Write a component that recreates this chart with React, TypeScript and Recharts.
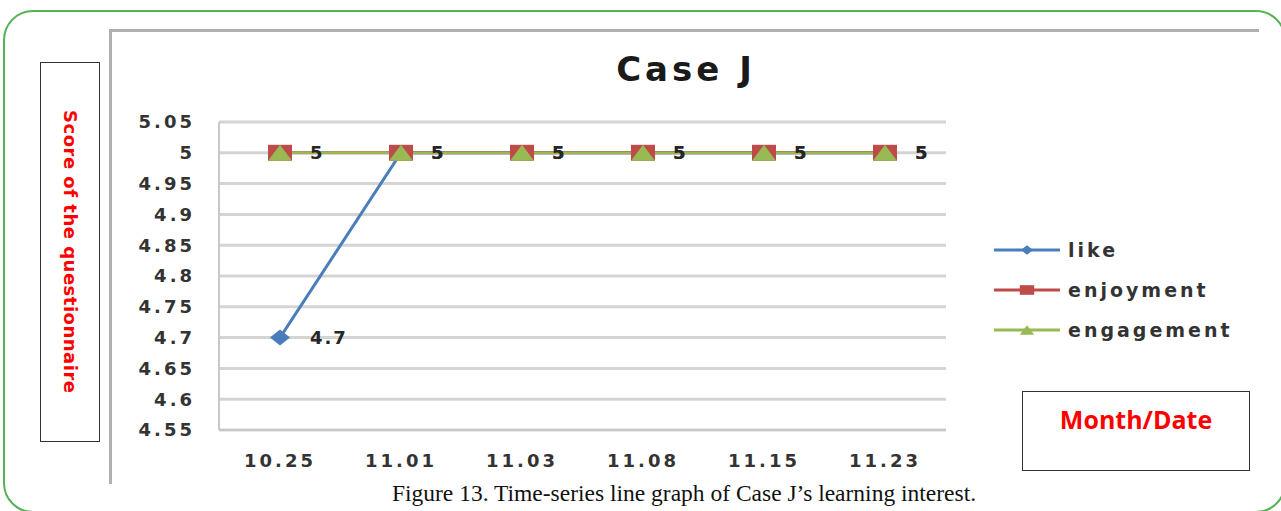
import { LineChart, Line, XAxis, YAxis, CartesianGrid, Legend, LabelList } from 'recharts';

// values
const dates = ['10.25', '11.01', '11.03', '11.08', '11.15', '11.23'];
const like = [4.7, 5, 5, 5, 5, 5];
const enjoyment = [5, 5, 5, 5, 5, 5];
const engagement = [5, 5, 5, 5, 5, 5];
const yTicks = [4.55, 4.6, 4.65, 4.7, 4.75, 4.8, 4.85, 4.9, 4.95, 5, 5.05];

const COLORS = {
  like: '#4a7ebb',
  enjoyment: '#be4b48',
  engagement: '#98b954',
  grid: '#d4d4d4',
  axis: '#c8c8c8',
  tick: '#333333',
  green: '#57b157',
  red: '#ff0000',
};

const series = [
  { key: 'like', name: 'like', color: COLORS.like },
  { key: 'enjoyment', name: 'enjoyment', color: COLORS.enjoyment },
  { key: 'engagement', name: 'engagement', color: COLORS.engagement },
];

const data = dates.map((d, i) => ({
  date: d,
  like: like[i],
  enjoyment: enjoyment[i],
  engagement: engagement[i],
}));

const tickFont = { fontFamily: 'DejaVu Sans', fontWeight: 700, fontSize: 18, letterSpacing: 3, fill: COLORS.tick };

function marker(kind: string, cx: number, cy: number, s: number, key?: any) {
  if (kind === 'like') {
    return (
      <polygon key={key} points={`${cx},${cy - 8 * s} ${cx + 10 * s},${cy} ${cx},${cy + 8 * s} ${cx - 10 * s},${cy}`} fill={COLORS.like} />
    );
  }
  if (kind === 'enjoyment') {
    return <rect key={key} x={cx - 12 * s} y={cy - 8 * s} width={24 * s} height={16 * s} fill={COLORS.enjoyment} />;
  }
  return (
    <polygon key={key} points={`${cx},${cy - 8 * s} ${cx + 12 * s},${cy + 8 * s} ${cx - 12 * s},${cy + 8 * s}`} fill={COLORS.engagement} />
  );
}

const dotFor = (kind: string) => (p: any) => marker(kind, p.cx, p.cy, 1, `${kind}-${p.index}`);

const renderLabel = (p: any) => (
  <text x={Number(p.x) + 30} y={Number(p.y)} dy="0.36em" textAnchor="start"
    style={{ fontFamily: 'DejaVu Sans', fontWeight: 700, fontSize: 18, letterSpacing: 2 }} fill="#262626">
    {p.value}
  </text>
);

const renderLegend = () => (
  <div>
    {series.map(s => (
      <div key={s.key} style={{ display: 'flex', alignItems: 'center', height: 40 }}>
        <svg width={66} height={20}>
          <line x1={0} y1={10} x2={66} y2={10} stroke={s.color} strokeWidth={3} />
          {marker(s.key, 33, 10, 0.6)}
        </svg>
        <span style={{ marginLeft: 8, fontFamily: 'DejaVu Sans', fontWeight: 700, fontSize: 19, letterSpacing: 3, color: '#333' }}>
          {s.name}
        </span>
      </div>
    ))}
  </div>
);

export default function App() {
  return (
    <div style={{ position: 'fixed', left: 0, top: 0, width: 1281, height: 511, background: '#fff', overflow: 'hidden' }}>
      {/* green rounded frame */}
      <div style={{ position: 'absolute', left: 3, top: 10, width: 1283, height: 503, border: `2px solid ${COLORS.green}`, borderRadius: 30, boxSizing: 'border-box' }} />
      {/* chart picture frame */}
      <div style={{ position: 'absolute', left: 109, top: 29, width: 1150, height: 455, borderTop: '3px solid #b0b0b0', borderLeft: '3px solid #b0b0b0', boxSizing: 'border-box' }} />

      {/* y label box */}
      <div style={{ position: 'absolute', left: 40, top: 62, width: 60, height: 380, border: '1px solid #333', boxSizing: 'border-box', display: 'flex', alignItems: 'center', justifyContent: 'center' }}>
        <span style={{ writingMode: 'vertical-rl', fontFamily: 'DejaVu Sans', fontWeight: 700, fontSize: 18, letterSpacing: 0.5, color: COLORS.red }}>
          Score of the questionnaire
        </span>
      </div>

      {/* month/date box */}
      <div style={{ position: 'absolute', left: 1022, top: 391, width: 228, height: 80, border: '1px solid #333', boxSizing: 'border-box', textAlign: 'center' }}>
        <div style={{ marginTop: 10, fontFamily: 'Open Sans', fontWeight: 700, fontSize: 25, color: COLORS.red }}>Month/Date</div>
      </div>

      {/* title */}
      <div style={{ position: 'absolute', left: 686, top: 49, transform: 'translateX(-50%)', fontFamily: 'DejaVu Sans', fontWeight: 700, fontSize: 34, letterSpacing: 4, color: '#1a1a1a', whiteSpace: 'nowrap' }}>
        Case J
      </div>

      {/* caption */}
      <div style={{ position: 'absolute', left: 684, top: 480, transform: 'translateX(-50%)', fontFamily: 'Liberation Serif', fontSize: 23.5, color: '#111', whiteSpace: 'nowrap' }}>
        Figure 13. Time-series line graph of Case J’s learning interest.
      </div>

      <div style={{ position: 'absolute', left: 0, top: 0 }}>
        <LineChart width={1281} height={511} data={data} margin={{ top: 122, right: 335, bottom: 41, left: 159 }}>
          <CartesianGrid vertical={false} stroke={COLORS.grid} strokeWidth={3} />
          <XAxis dataKey="date" padding={{ left: 61, right: 61 }} height={40} axisLine={{ stroke: COLORS.axis, strokeWidth: 2 }}
            tickLine={false} tickSize={0} tickMargin={24} tick={tickFont} interval={0} />
          <YAxis type="number" domain={[4.55, 5.05]} ticks={yTicks} width={60} allowDataOverflow
            axisLine={{ stroke: COLORS.axis, strokeWidth: 2 }} tickLine={false} tickSize={0} tickMargin={24}
            tick={tickFont} tickFormatter={(v: number) => String(Number(v.toFixed(2)))} />
          <Legend layout="vertical" align="center" verticalAlign="middle" content={renderLegend}
            wrapperStyle={{ left: 994, top: 230, width: 260, height: 120 }} />
          <Line dataKey="like" name="like" stroke={COLORS.like} strokeWidth={3} dot={dotFor('like')} activeDot={false} isAnimationActive={false}>
            <LabelList dataKey="like" content={renderLabel} />
          </Line>
          <Line dataKey="enjoyment" name="enjoyment" stroke={COLORS.enjoyment} strokeWidth={3} dot={dotFor('enjoyment')} activeDot={false} isAnimationActive={false} />
          <Line dataKey="engagement" name="engagement" stroke={COLORS.engagement} strokeWidth={2.5} dot={dotFor('engagement')} activeDot={false} isAnimationActive={false}>
            <LabelList dataKey="engagement" content={renderLabel} />
          </Line>
        </LineChart>
      </div>
    </div>
  );
}
